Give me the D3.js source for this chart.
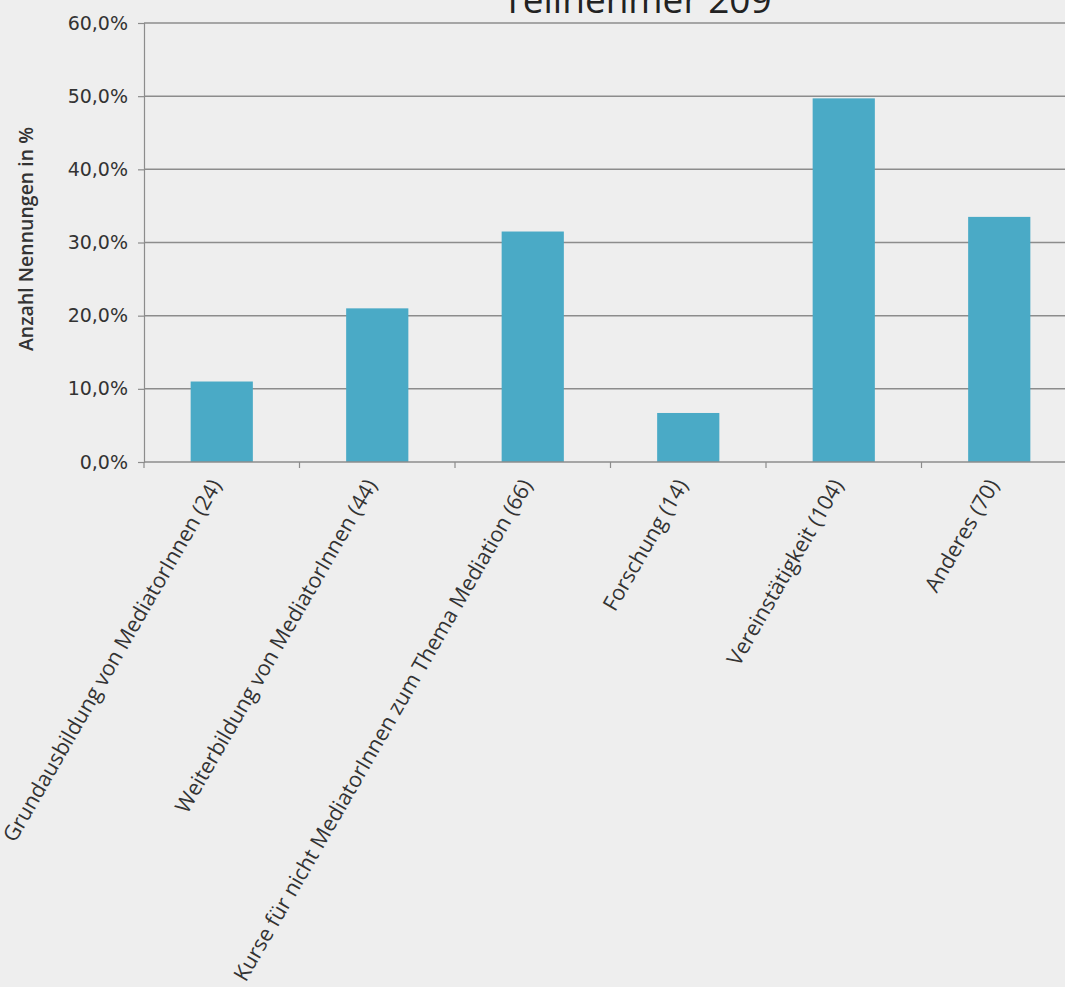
<!DOCTYPE html>
<html>
<head>
<meta charset="utf-8">
<script src="https://cdn.jsdelivr.net/npm/d3@7"></script>
<style>
  html, body { margin: 0; padding: 0; background: #eeeeee; }
  svg { display: block; }
</style>
</head>
<body>
<svg id="chart" width="1065" height="987"></svg>
<script>
// Tätigkeitsfelder – Anteil der Nennungen (Teilnehmer 209)
const categories = [
  "Grundausbildung von MediatorInnen (24)",
  "Weiterbildung von MediatorInnen (44)",
  "Kurse für nicht MediatorInnen zum Thema Mediation (66)",
  "Forschung (14)",
  "Vereinstätigkeit (104)",
  "Anderes (70)"
];
const shares = [11.0, 21.0, 31.5, 6.7, 49.7, 33.5];
const yTicks = [0, 10, 20, 30, 40, 50, 60];
const chartTitle = "Teilnehmer 209";
const yTitle = "Anzahl Nennungen in %";

const svg = d3.select("#chart");
const plotLeft = 144, plotRight = 1077, plotTop = 23, plotBottom = 462;
const textFont = "'Open Sans', Lato, sans-serif";

const x = d3.scaleBand()
  .domain(categories)
  .range([plotLeft, plotRight])
  .paddingInner(0.6)
  .paddingOuter(0.3);

const y = d3.scaleLinear()
  .domain([0, 60])
  .range([plotBottom, plotTop]);

const fmt = v => d3.format(".1f")(v).replace(".", ",") + "%";

// horizontal gridlines
svg.append("g")
  .selectAll("line")
  .data(yTicks.filter(t => t > 0))
  .join("line")
  .attr("x1", plotLeft).attr("x2", 1065)
  .attr("y1", d => y(d)).attr("y2", d => y(d))
  .attr("stroke", "#8c8c8c")
  .attr("stroke-width", 1.5);

// bars
svg.append("g")
  .selectAll("rect")
  .data(shares)
  .join("rect")
  .attr("x", (d, i) => x(categories[i]))
  .attr("width", x.bandwidth())
  .attr("y", d => y(d))
  .attr("height", d => y(0) - y(d))
  .attr("fill", "#4aaac6");

// y axis
const yAxis = svg.append("g")
  .attr("transform", `translate(${plotLeft},0)`)
  .call(d3.axisLeft(y).tickValues(yTicks).tickFormat(fmt).tickSize(6).tickPadding(10));
yAxis.select(".domain").attr("stroke", "#8c8c8c").attr("stroke-width", 1.2);
yAxis.selectAll(".tick line").attr("stroke", "#8c8c8c").attr("stroke-width", 1.2);
yAxis.selectAll(".tick text")
  .attr("fill", "#333")
  .style("font-family", "'DejaVu Sans', sans-serif")
  .style("font-size", "19px");

// x axis baseline with ticks at category boundaries
const gap = x.step() - x.bandwidth();
const boundaries = categories.map(c => x(c) - gap / 2).concat([plotRight]);
const xg = svg.append("g");
xg.append("line")
  .attr("x1", plotLeft).attr("x2", 1065)
  .attr("y1", y(0)).attr("y2", y(0))
  .attr("stroke", "#8c8c8c").attr("stroke-width", 1.5);
xg.selectAll("line.tk")
  .data(boundaries)
  .join("line")
  .attr("class", "tk")
  .attr("x1", d => d).attr("x2", d => d)
  .attr("y1", y(0)).attr("y2", y(0) + 6)
  .attr("stroke", "#8c8c8c").attr("stroke-width", 1.2);

// rotated category labels
xg.selectAll("text")
  .data(categories)
  .join("text")
  .attr("transform", d => `translate(${x(d) + x.bandwidth() / 2 - 6},${y(0) + 19}) rotate(-60)`)
  .attr("text-anchor", "end")
  .attr("dy", "0.35em")
  .attr("fill", "#333")
  .style("font-family", textFont)
  .style("font-size", "21.5px")
  .text(d => d);

// y axis title
svg.append("text")
  .attr("transform", `translate(26,239) rotate(-90)`)
  .attr("text-anchor", "middle")
  .attr("dy", "0.35em")
  .attr("fill", "#333")
  .style("font-family", textFont)
  .style("font-size", "19.5px")
  .style("font-weight", 600)
  .text(yTitle);

// chart title (partly above the visible area)
svg.append("text")
  .attr("x", 637)
  .attr("y", 13)
  .attr("text-anchor", "middle")
  .attr("fill", "#222")
  .style("font-family", textFont)
  .style("font-size", "37px")
  .text(chartTitle);
</script>
</body>
</html>
